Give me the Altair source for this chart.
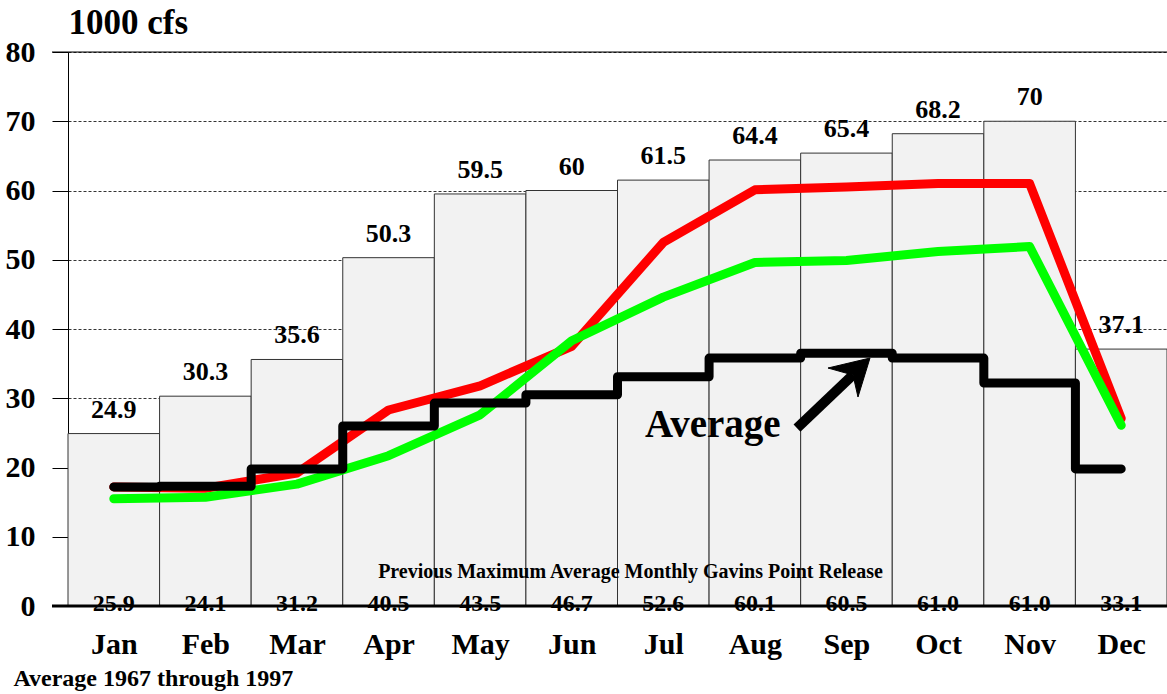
import altair as alt
import pandas as pd

# ---- data ----
months = ["Jan", "Feb", "Mar", "Apr", "May", "Jun", "Jul", "Aug", "Sep", "Oct", "Nov", "Dec"]
bar_values = [24.9, 30.3, 35.6, 50.3, 59.5, 60.0, 61.5, 64.4, 65.4, 68.2, 70.0, 37.1]
bar_labels = ["24.9", "30.3", "35.6", "50.3", "59.5", "60", "61.5", "64.4", "65.4", "68.2", "70", "37.1"]
prev_max_labels = ["25.9", "24.1", "31.2", "40.5", "43.5", "46.7", "52.6", "60.1", "60.5", "61.0", "61.0", "33.1"]
red_values = [17.2, 17.0, 19.2, 28.3, 31.8, 37.5, 52.5, 60.1, 60.5, 61.0, 61.0, 27.1]
green_values = [15.5, 15.7, 17.6, 21.7, 27.6, 38.3, 44.6, 49.6, 49.9, 51.2, 51.9, 26.1]
avg_values = [17.2, 17.3, 19.8, 26.0, 29.3, 30.5, 33.1, 35.8, 36.5, 35.8, 32.2, 19.8]

# annotation anchors (data space)
arrow_tail = [7.96, 25.7]
arrow_notch = [8.571, 33.36]
arrow_tip = [8.757, 35.81]
average_label_pos = [6.30, 24.4]
prev_max_title_pos = [6.142, 4.04]
prev_max_title = "Previous Maximum Average Monthly Gavins Point Release"

W, H = 1099, 554
FONT = "Liberation Serif"

df = pd.DataFrame({
    "month": months,
    "i": list(range(12)),
    "i2": [i + 1 for i in range(12)],
    "xc": [i + 0.5 for i in range(12)],
    "bar": bar_values,
    "bar_label": bar_labels,
    "prev": prev_max_labels,
    "red": red_values,
    "green": green_values,
    "avg": avg_values,
})

xs = alt.Scale(domain=[0, 12], nice=False, zero=False)
ys = alt.Scale(domain=[0, 80], nice=False)

month_expr = "[" + ",".join("'%s'" % m for m in months) + "][round(datum.value - 0.5)]"

x_axis = alt.Axis(
    values=[i + 0.5 for i in range(12)], labelExpr=month_expr,
    domain=False, ticks=False, grid=False,
    labelFont=FONT, labelFontSize=30, labelFontWeight="bold", labelColor="black",
    labelBaseline="alphabetic", labelPadding=47,
    title="Average 1967 through 1997", titleFont=FONT, titleFontSize=24,
    titleFontWeight="bold", titleColor="black", titleAlign="left",
    titleBaseline="alphabetic", titleX=-55, titleY=79, titleAnchor="start",
)
y_axis = alt.Axis(
    values=[0, 10, 20, 30, 40, 50, 60, 70, 80],
    domain=True, domainColor="black", domainWidth=1,
    ticks=True, tickSize=16, tickColor="black", tickWidth=1,
    grid=True, gridColor="black", gridDash=[3, 2], gridWidth=0.8,
    labelFont=FONT, labelFontSize=30, labelFontWeight="bold", labelColor="black",
    labelPadding=17,
    title="1000 cfs", titleFont=FONT, titleFontSize=35, titleFontWeight="bold",
    titleColor="black", titleAngle=0, titleAlign="left", titleBaseline="alphabetic",
    titleX=0, titleY=-19,
)


def X(field):
    return alt.X(field, scale=xs, axis=x_axis)


def Y(field):
    return alt.Y(field, scale=ys, axis=y_axis)


base = alt.Chart(df)

bars = base.mark_rect(fill="#f2f2f2", stroke="#333333", strokeWidth=1).encode(
    x=X("i:Q"), x2="i2:Q", y=Y("bar:Q"), y2=alt.datum(0),
)

bar_text = base.mark_text(font=FONT, fontSize=26, fontWeight="bold", color="black",
                          baseline="alphabetic", dy=-16).encode(
    x=X("xc:Q"), y=Y("bar:Q"), text="bar_label:N")

prev_text = base.mark_text(font=FONT, fontSize=24, fontWeight="bold", color="black",
                           baseline="alphabetic", dy=5).encode(
    x=X("xc:Q"), y=alt.datum(0), text="prev:N")

prev_title = alt.Chart(pd.DataFrame({"x": [prev_max_title_pos[0]], "y": [prev_max_title_pos[1]],
                                     "t": [prev_max_title]})).mark_text(
    font=FONT, fontSize=20, fontWeight="bold", color="black", baseline="alphabetic", align="center"
).encode(x=X("x:Q"), y=Y("y:Q"), text="t:N")

LW = 9
red_line = base.mark_line(color="#ff0000", strokeWidth=LW, strokeCap="round", strokeJoin="round").encode(
    x=X("xc:Q"), y=Y("red:Q"))
green_line = base.mark_line(color="#00ff00", strokeWidth=LW, strokeCap="round", strokeJoin="round").encode(
    x=X("xc:Q"), y=Y("green:Q"))
avg_line = base.mark_line(color="black", strokeWidth=LW, strokeCap="round", strokeJoin="round",
                          interpolate="step").encode(
    x=X("xc:Q"), y=Y("avg:Q"))

frame_df = pd.DataFrame({"y": [0, 80]})
zero_line = alt.Chart(frame_df[frame_df.y == 0]).mark_rule(color="black", strokeWidth=3).encode(
    y=Y("y:Q"), x=alt.value(-16), x2=alt.value(W))
top_line = alt.Chart(frame_df[frame_df.y == 80]).mark_rule(color="black", strokeWidth=1).encode(
    y=Y("y:Q"), x=alt.value(-16), x2=alt.value(W))

arrow_df = pd.DataFrame({"x": [arrow_tail[0]], "y": [arrow_tail[1]],
                         "x2": [arrow_notch[0]], "y2": [arrow_notch[1]]})
arrow_shaft = alt.Chart(arrow_df).mark_rule(color="black", strokeWidth=10, strokeCap="butt").encode(
    x=X("x:Q"), y=Y("y:Q"), x2="x2:Q", y2="y2:Q")
head_df = pd.DataFrame({"x": [arrow_tip[0]], "y": [arrow_tip[1]]})
arrow_head = alt.Chart(head_df).mark_point(
    shape="M0,0L-1.05,0.25L-0.425,0.425L-0.3,0.975Z", size=6400, filled=True,
    fill="black", stroke="black", strokeWidth=1, opacity=1
).encode(x=X("x:Q"), y=Y("y:Q"))

avg_label_df = pd.DataFrame({"x": [average_label_pos[0]], "y": [average_label_pos[1]], "t": ["Average"]})
avg_label = alt.Chart(avg_label_df).mark_text(
    font=FONT, fontSize=39, fontWeight="bold", color="black", align="left", baseline="alphabetic"
).encode(x=X("x:Q"), y=Y("y:Q"), text="t:N")

chart = alt.layer(
    bars, top_line, bar_text, prev_title, red_line, green_line, avg_line,
    zero_line, prev_text, arrow_shaft, arrow_head, avg_label,
).properties(
    width=W, height=H,
    autosize=alt.AutoSizeParams(type="none"),
    padding={"left": 68, "top": 52, "right": 0, "bottom": 88},
).configure_view(stroke=None).configure(background="white")

chart.save("out.html", embed_options={"renderer": "svg", "actions": False})
